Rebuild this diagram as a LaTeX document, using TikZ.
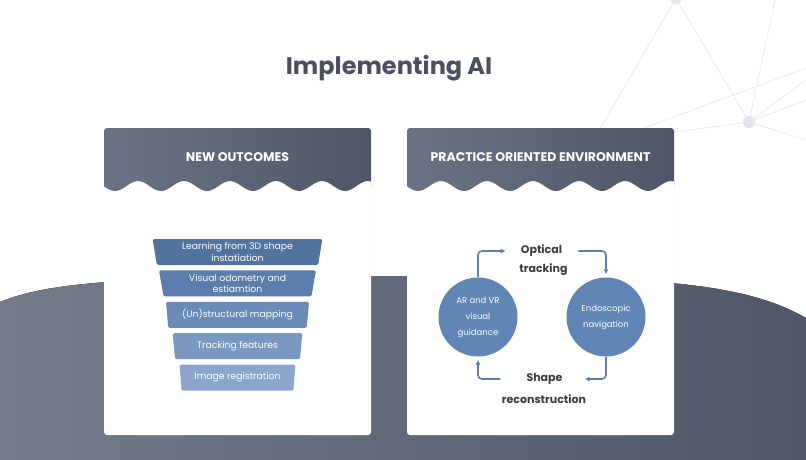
\documentclass[tikz,border=0pt]{standalone}
\usepackage{fontspec}
\setmainfont{Poppins}
\usetikzlibrary{positioning,shapes.geometric,arrows.meta,shadows}

\definecolor{slate}{HTML}{4E5668}
\definecolor{slatelight}{HTML}{747B89}
\definecolor{hdrleft}{HTML}{6B7385}
\definecolor{hdrright}{HTML}{4D5567}
\definecolor{titlegray}{HTML}{4A5061}
\definecolor{netgray}{HTML}{E9EBF1}
\definecolor{netdot}{HTML}{E2E5EE}
\definecolor{stageA}{HTML}{52729F}
\definecolor{stageB}{HTML}{5C7DAB}
\definecolor{stageC}{HTML}{6A8AB8}
\definecolor{stageD}{HTML}{7B98C2}
\definecolor{stageE}{HTML}{8BA5CB}
\definecolor{cycleblue}{HTML}{5F86B5}
\definecolor{arrowblue}{HTML}{5B7FAE}
\definecolor{labelgray}{HTML}{3C3C3C}

\tikzset{
  card/.style={fill=white, rounded corners=3pt,
    drop shadow={opacity=0.12, shadow xshift=0pt, shadow yshift=-1.5pt}},
  header/.style={left color=hdrleft, right color=hdrright},
  stage/.style={trapezium, shape border rotate=180, trapezium stretches=true,
    trapezium left angle=81, trapezium right angle=81, minimum height=26pt,
    inner sep=0pt, rounded corners=1.5pt, text=white, align=center,
    font=\fontsize{9.3}{11.5}\selectfont},
  hub/.style={circle, fill=cycleblue, minimum size=79pt, inner sep=0pt,
    text=white, align=center, font=\fontsize{8.5}{16}\selectfont},
  steplabel/.style={text=labelgray, inner sep=0pt, font=\fontsize{11}{13}\selectfont\bfseries},
  flow/.style={draw=arrowblue, line width=1.6pt, rounded corners=4pt, ->}
}

\begin{document}
\begin{tikzpicture}[x=1pt, y=-1pt, >={Latex[length=5pt,width=5pt]}]
		\useasboundingbox (0,0) rectangle (806,459);
		\fill[white] (0,0) rectangle (806,459);

		\coordinate (n1) at (676,-2);
		\coordinate (n2) at (749,122);
		\draw[netgray, line width=0.8pt] (n1) -- (n2) (n1) -- (585,155) (n2) -- (775,0)
			(620,137) -- (806,68) (n2) -- (806,80) (n2) -- (806,100) (n2) -- (806,140) (n2) -- (660,134);
		\fill[netdot] (n1) circle (6) (n2) circle (6);

		\fill[left color=slatelight, right color=slate] (0,302) .. controls (50,282) and (120,276) .. (400,276)
			.. controls (640,276) and (740,280) .. (806,318) -- (806,470) -- (0,470) -- cycle;

		\node[text=titlegray, font=\fontsize{24}{28}\selectfont\bfseries] (title) at (389,68) {Implementing AI};

		\foreach \cx/\lbl in {104/NEW OUTCOMES, 407/PRACTICE ORIENTED ENVIRONMENT} {
				\fill[card] (\cx,128) rectangle (\cx+267,435);
				\path[header] (\cx,186) [rounded corners=3pt] -- (\cx,128) -- (\cx+267,128) [sharp corners] -- (\cx+267,186)
				-- plot[domain=\cx+267:\cx, samples=100] (\x,{186+5*cos((\x-\cx-11)/46*360)}) -- cycle;
				\node[text=white, font=\fontsize{12.5}{15}\selectfont\bfseries] (hdr\cx) at (\cx+133.5,157) {\lbl};
			}

		\node[stage, fill=stageA, minimum width=170pt] (s1) at (237.5,252) {Learning from 3D shape\\instatiation};
		\node[stage, fill=stageB, minimum width=157pt, below=5pt of s1] (s2) {Visual odometry and\\estiamtion};
		\node[stage, fill=stageC, minimum width=143pt, below=5pt of s2] (s3) {(Un)structural mapping};
		\node[stage, fill=stageD, minimum width=130pt, below=5pt of s3] (s4) {Tracking features};
		\node[stage, fill=stageE, minimum width=116pt, below=5pt of s4] (s5) {Image registration};

		\node[hub] (arvr) at (478,317) {AR and VR\\visual\\guidance};
		\node[hub] (endo) at (606,317) {Endoscopic\\navigation};
		\node[steplabel] (optical) at (541.5,251) {Optical};
		\node[steplabel] (tracking) at (543.5,270) {tracking};
		\node[steplabel] (shape) at (544.5,379) {Shape};
		\node[steplabel] (recon) at (544,399) {reconstruction};

		\draw[flow, shorten >=15pt] (arvr.north) |- (optical.west);
		\draw[flow, shorten <=16pt, shorten >=3pt] (optical.east) -| (endo.north);
		\draw[flow, shorten >=22pt] (endo.south) |- (shape.east);
		\draw[flow, shorten <=26pt, shorten >=3pt] (shape.west) -| (arvr.south);
	\end{tikzpicture}
\end{document}
